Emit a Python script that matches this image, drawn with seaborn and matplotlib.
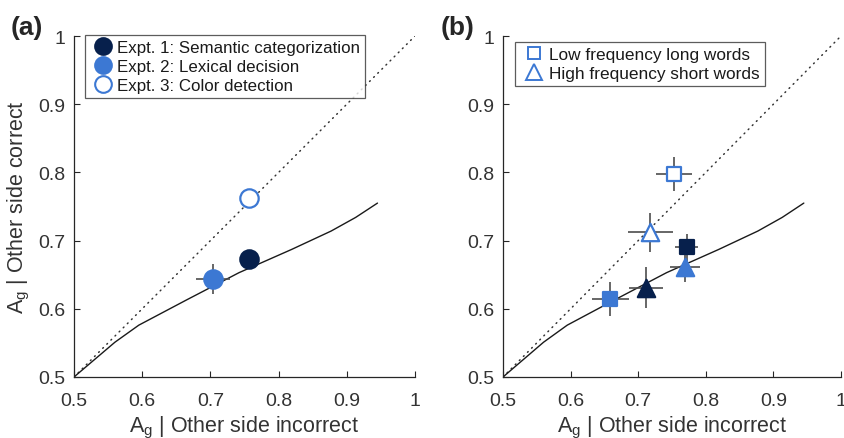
import matplotlib
matplotlib.use("Agg")
import matplotlib.pyplot as plt
import seaborn as sns
import pandas as pd
import numpy as np
from matplotlib.lines import Line2D

sns.set_theme(style="white")
plt.rcParams['font.family'] = ['Liberation Sans', 'DejaVu Sans']
plt.rcParams['mathtext.fontset'] = 'custom'
plt.rcParams['mathtext.rm'] = 'Liberation Sans'
plt.rcParams['mathtext.it'] = 'Liberation Sans'

NAVY = "#07204c"
BLUE = "#3c78d3"
AXC = "#262626"
ERRC = "#4d4d4d"
TXT = "#333333"

# Model curve
curve_x = [0.5, 0.56, 0.595, 0.665, 0.742, 0.819, 0.877, 0.913, 0.945]
curve_y = [0.5, 0.551, 0.576, 0.613, 0.653, 0.687, 0.714, 0.734, 0.755]
diag = [0.5, 1.0]

# Panel (a)
a_labels = ["Expt. 1: Semantic categorization", "Expt. 2: Lexical decision", "Expt. 3: Color detection"]
a_x = [0.757, 0.704, 0.756]
a_y = [0.673, 0.644, 0.762]
a_xerr = [0.012, 0.025, 0.012]
a_yerr = [0.010, 0.022, 0.012]
a_face = [NAVY, BLUE, "white"]
a_edge = [NAVY, BLUE, BLUE]

# Panel (b)
b_x = [0.753, 0.772, 0.659, 0.718, 0.712, 0.769]
b_y = [0.798, 0.690, 0.614, 0.712, 0.631, 0.661]
b_xerr = [0.027, 0.017, 0.028, 0.033, 0.025, 0.022]
b_yerr = [0.025, 0.020, 0.025, 0.028, 0.030, 0.021]
b_marker = ["s", "s", "s", "^", "^", "^"]
b_face = ["white", NAVY, BLUE, "white", NAVY, BLUE]
b_edge = [BLUE, NAVY, BLUE, BLUE, NAVY, BLUE]
b_size = [10, 9.5, 10, 12.5, 12.5, 12.5]
b_legend = ["Low frequency long words", "High frequency short words"]

ticks = [0.5, 0.6, 0.7, 0.8, 0.9, 1.0]
ticklabels = ["0.5", "0.6", "0.7", "0.8", "0.9", "1"]

W, H = 845, 439
fig = plt.figure(figsize=(W/100, H/100), dpi=100)
axA = fig.add_axes([74/W, 61/H, 341/W, 341/H])
axB = fig.add_axes([503/W, 61/H, 338/W, 341/H])

curve_df = pd.DataFrame({"x": curve_x, "y": curve_y})
diag_df = pd.DataFrame({"x": diag, "y": diag})

xlabel = r"A$_{\mathrm{g}}$ | Other side incorrect"
ylabel = r"A$_{\mathrm{g}}$ | Other side correct"

for ax in (axA, axB):
    sns.lineplot(data=diag_df, x="x", y="y", ax=ax, color="#333333", lw=1.1,
                 linestyle=(0, (0.6, 3.2)), dash_capstyle="round", sort=False, zorder=1)
    sns.lineplot(data=curve_df, x="x", y="y", ax=ax, color="#1a1a1a", lw=1.0, sort=False, zorder=1)
    ax.set_xlim(0.5, 1.0)
    ax.set_ylim(0.5, 1.0)
    ax.set_xticks(ticks)
    ax.set_xticklabels(ticklabels)
    ax.set_yticks(ticks)
    ax.set_yticklabels(ticklabels)
    ax.tick_params(bottom=True, left=True, direction="in", length=4, width=0.8, colors=AXC,
                   labelsize=14, labelcolor=TXT)
    ax.tick_params(axis="x", pad=11)
    ax.tick_params(axis="y", pad=6)
    for s in ("top", "right"):
        ax.spines[s].set_visible(False)
    for s in ("left", "bottom"):
        ax.spines[s].set_color(AXC)
        ax.spines[s].set_linewidth(0.9)
    ax.set_facecolor("white")

# Panel (a) points
for i in range(3):
    axA.errorbar(a_x[i], a_y[i], xerr=a_xerr[i], yerr=a_yerr[i], fmt="none",
                 ecolor=ERRC, elinewidth=1.2, capsize=0, zorder=2)
dfa = pd.DataFrame({"x": a_x, "y": a_y, "lab": a_labels})
for i in range(3):
    sns.scatterplot(data=dfa.iloc[[i]], x="x", y="y", ax=axA, s=175, marker="o",
                    color=a_face[i], edgecolor=a_edge[i], linewidth=1.6, zorder=3)
axA.set_xlabel(xlabel, fontsize=15.5, color=TXT, labelpad=3)
axA.set_ylabel(ylabel, fontsize=15.5, color=TXT, labelpad=5)

handles_a = [Line2D([], [], marker="o", linestyle="none", markersize=12,
                    markerfacecolor=a_face[i], markeredgecolor=a_edge[i], markeredgewidth=1.5)
             for i in range(3)]
legA = axA.legend(handles_a, a_labels, loc="upper left", bbox_to_anchor=(11/341, 1.003),
                  fontsize=12.2, frameon=True, fancybox=False, edgecolor="#333333",
                  handletextpad=0.1, handlelength=1.5, borderpad=0.3, labelspacing=0.22,
                  borderaxespad=0.0)
legA.get_frame().set_linewidth(0.9)
for t in legA.get_texts():
    t.set_color("#1a1a1a")

# Panel (b) points
dfb = pd.DataFrame({"x": b_x, "y": b_y})
for i in range(6):
    axB.errorbar(b_x[i], b_y[i], xerr=b_xerr[i], yerr=b_yerr[i], fmt="none",
                 ecolor=ERRC, elinewidth=1.2, capsize=0, zorder=2)
for i in range(6):
    sns.scatterplot(data=dfb.iloc[[i]], x="x", y="y", ax=axB, s=b_size[i]**2, marker=b_marker[i],
                    color=b_face[i], edgecolor=b_edge[i], linewidth=1.6, zorder=3)
axB.set_xlabel(xlabel, fontsize=15.5, color=TXT, labelpad=3)
axB.set_ylabel("")

handles_b = [Line2D([], [], marker="s", linestyle="none", markersize=9,
                    markerfacecolor="white", markeredgecolor=BLUE, markeredgewidth=1.4),
             Line2D([], [], marker="^", linestyle="none", markersize=12,
                    markerfacecolor="white", markeredgecolor=BLUE, markeredgewidth=1.4)]
legB = axB.legend(handles_b, b_legend, loc="upper left", bbox_to_anchor=(12/338, 1 - 6/341),
                  fontsize=12.4, frameon=True, fancybox=False, edgecolor="#333333",
                  handletextpad=0.1, handlelength=1.6, borderpad=0.3, labelspacing=0.2,
                  borderaxespad=0.0)
legB.get_frame().set_linewidth(0.9)
for t in legB.get_texts():
    t.set_color("#1a1a1a")

fig.text(11/W, 1 - 28/H, "(a)", fontsize=19, fontweight="bold", va="center", ha="left")
fig.text(441/W, 1 - 28/H, "(b)", fontsize=19, fontweight="bold", va="center", ha="left")

fig.savefig("out.png", dpi=100, facecolor="white")
